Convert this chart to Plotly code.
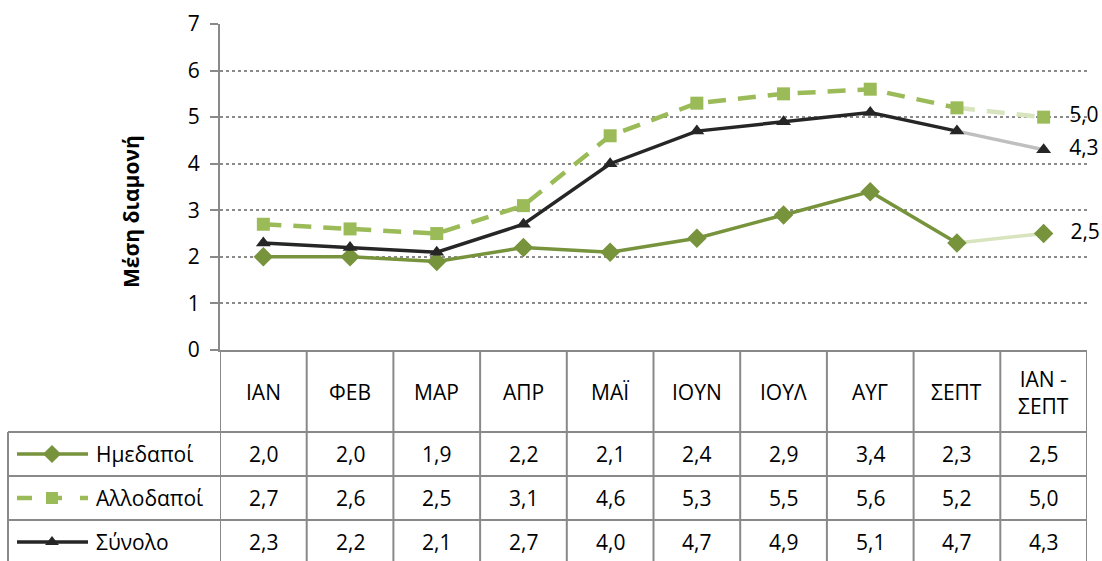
import plotly.graph_objects as go

# ---------------- data ----------------
categories = ["ΙΑΝ", "ΦΕΒ", "ΜΑΡ", "ΑΠΡ", "ΜΑΪ", "ΙΟΥΝ", "ΙΟΥΛ", "ΑΥΓ", "ΣΕΠΤ", "ΙΑΝ -<br>ΣΕΠΤ"]
series_names = ["Ημεδαποί", "Αλλοδαποί", "Σύνολο"]
imedapoi = [2.0, 2.0, 1.9, 2.2, 2.1, 2.4, 2.9, 3.4, 2.3, 2.5]
allodapoi = [2.7, 2.6, 2.5, 3.1, 4.6, 5.3, 5.5, 5.6, 5.2, 5.0]
synolo = [2.3, 2.2, 2.1, 2.7, 4.0, 4.7, 4.9, 5.1, 4.7, 4.3]
y_title = "Μέση διαμονή"
y_ticks = [0, 1, 2, 3, 4, 5, 6, 7]

# ---------------- styles ----------------
W, H = 1102, 561
FONT = "Open Sans"
GRAY = "#898989"
styles = [
    dict(color="#77933C", light="#D7E4BD", dash="solid", legdash="solid",
         symbol="diamond", size=15, width=3.5),
    dict(color="#9BBB59", light="#D7E4BD", dash="18px,12px", legdash="15px,15px,15px,18px",
         symbol="square", size=13, width=4.5),
    dict(color="#262626", light="#BFBFBF", dash="solid", legdash="solid",
         symbol="triangle-up", size=13, width=3.5),
]
values = [imedapoi, allodapoi, synolo]

PLOT_L, PLOT_R, PLOT_T, PLOT_B = 220, 1087, 24, 350
TABLE_L = 8
ROW_LINES = [432, 476, 520]
ROW_CENTERS = [454, 498, 542]
TXT = 21


def px(x):
    return x / W


def py(y):
    return 1 - y / H


def fmt(v):
    return f"{v:.1f}".replace(".", ",")


n = len(categories)
xs = list(range(n))

fig = go.Figure()

# series lines: light last segment, main line, last marker
for name, vals, st in zip(series_names, values, styles):
    fig.add_trace(go.Scatter(
        x=xs[n - 2:], y=vals[n - 2:], mode="lines",
        line=dict(color=st["light"], width=st["width"], dash=st["dash"]),
        showlegend=False, hoverinfo="skip"))
for name, vals, st in zip(series_names, values, styles):
    fig.add_trace(go.Scatter(
        x=xs[:n - 1], y=vals[:n - 1], mode="lines+markers", name=name,
        line=dict(color=st["color"], width=st["width"], dash=st["dash"]),
        marker=dict(symbol=st["symbol"], size=st["size"], color=st["color"]),
        showlegend=False))
    fig.add_trace(go.Scatter(
        x=[xs[-1]], y=[vals[-1]], mode="markers+text",
        marker=dict(symbol=st["symbol"], size=st["size"], color=st["color"]),
        text=["   " + fmt(vals[-1])], textposition="middle right",
        textfont=dict(family=FONT, size=TXT, color="#000000"),
        showlegend=False, cliponaxis=False))

# legend glyphs inside the data table (pixel overlay axis)
for name, st, yc in zip(series_names, styles, ROW_CENTERS[:3]):
    fig.add_trace(go.Scatter(
        x=[17, 88], y=[yc, yc], mode="lines", xaxis="x2", yaxis="y2",
        line=dict(color=st["color"], width=st["width"], dash=st["legdash"]),
        showlegend=False, hoverinfo="skip"))
    fig.add_trace(go.Scatter(
        x=[52], y=[yc], mode="markers", xaxis="x2", yaxis="y2",
        marker=dict(symbol=st["symbol"], size=st["size"] - 1, color=st["color"]),
        showlegend=False, hoverinfo="skip"))

shapes = []
line_style = dict(color=GRAY, width=2)
# vertical column lines through header and table
for i in range(n + 1):
    xb = -0.5 + i
    shapes.append(dict(type="line", xref="x", yref="paper", x0=xb, x1=xb,
                       y0=py(PLOT_B), y1=py(H + 5), line=line_style, layer="below"))
# left border of table
shapes.append(dict(type="line", xref="paper", yref="paper", x0=px(TABLE_L), x1=px(TABLE_L),
                   y0=py(ROW_LINES[0]), y1=py(H + 5), line=line_style, layer="below"))
# horizontal row lines
for yl in ROW_LINES:
    shapes.append(dict(type="line", xref="paper", yref="paper", x0=px(TABLE_L), x1=px(PLOT_R),
                       y0=py(yl), y1=py(yl), line=line_style, layer="below"))

annotations = []
# header labels
for i, c in enumerate(categories):
    annotations.append(dict(x=i, y=py((PLOT_B + ROW_LINES[0]) / 2 + 1), xref="x", yref="paper",
                            text=c, showarrow=False,
                            font=dict(family=FONT, size=TXT, color="#000000"),
                            xanchor="center", yanchor="middle"))
# table values and row names
for name, vals, yc in zip(series_names, values, ROW_CENTERS):
    annotations.append(dict(x=px(94), y=py(yc), xref="paper", yref="paper", text=name,
                            showarrow=False, xanchor="left", yanchor="middle",
                            font=dict(family=FONT, size=TXT, color="#000000")))
    for i, v in enumerate(vals):
        annotations.append(dict(x=i, y=py(yc), xref="x", yref="paper", text=fmt(v),
                                showarrow=False, xanchor="center", yanchor="middle",
                                font=dict(family=FONT, size=TXT, color="#000000")))
# y-axis title
annotations.append(dict(x=px(131), y=py(212), xref="paper", yref="paper", text="<b>" + y_title + "</b>",
                        showarrow=False, textangle=-90, xanchor="center", yanchor="middle",
                        font=dict(family=FONT, size=21, color="#000000")))

fig.update_layout(
    width=W, height=H, autosize=False,
    margin=dict(l=0, r=0, t=0, b=0, pad=0, autoexpand=False),
    paper_bgcolor="white", plot_bgcolor="rgba(0,0,0,0)",
    showlegend=False,
    xaxis=dict(domain=[px(PLOT_L), px(PLOT_R)], range=[-0.5, n - 0.5], automargin=False,
               showticklabels=False, showgrid=False, zeroline=False,
               showline=True, linecolor=GRAY, linewidth=2, ticks=""),
    yaxis=dict(domain=[py(PLOT_B), py(PLOT_T)], range=[0, 7], tickvals=y_ticks, automargin=False,
               showgrid=True, gridcolor="#8a8a8a", griddash="dot", gridwidth=1.5,
               zeroline=False, showline=True, linecolor=GRAY, linewidth=2,
               ticks="outside", ticklen=8, tickcolor=GRAY, tickwidth=2,
               ticklabelstandoff=6,
               tickfont=dict(family=FONT, size=21, color="#000000")),
    xaxis2=dict(domain=[0, 1], range=[0, W], visible=False, anchor="y2", fixedrange=True,
                automargin=False),
    yaxis2=dict(domain=[0, 1], range=[H, 0], visible=False, anchor="x2", fixedrange=True,
                automargin=False),
    shapes=shapes,
    annotations=annotations,
)

fig.write_html("out.html", config={"displayModeBar": False},
               post_script="document.body.style.margin='0px';")
